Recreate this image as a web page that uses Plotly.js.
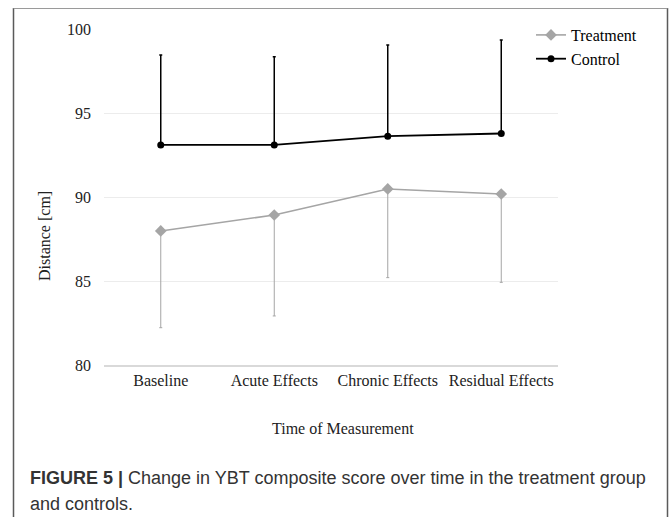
<!DOCTYPE html>
<html>
<head>
<meta charset="utf-8">
<script src="https://cdn.plot.ly/plotly-3.0.1.min.js"></script>
<style>html,body{margin:0;padding:0;background:#fff;}#chart{width:669px;height:517px;}</style>
</head>
<body>
<div id="chart"></div>
<script>
// ---- data ----
const categories = ["Baseline", "Acute Effects", "Chronic Effects", "Residual Effects"];
const treatmentMean = [87.98, 88.93, 90.48, 90.18];
const treatmentLower = [82.22, 82.92, 85.20, 84.92];   // end of downward error bar
const controlMean = [93.10, 93.10, 93.62, 93.78];
const controlUpper = [98.45, 98.35, 99.05, 99.35];      // end of upward error bar
const yTicks = [80, 85, 90, 95, 100];

const tMinus = treatmentMean.map((v, i) => +(v - treatmentLower[i]).toFixed(3));
const cPlus = controlUpper.map((v, i) => +(v - controlMean[i]).toFixed(3));
const zeros = categories.map(() => 0);

// pixel helpers for paper-positioned decorations
const L = 104, R = 558, T = 29, B = 365;
const px = x => (x - L) / (R - L);
const py = y => (B - y) / (B - T);

const serif = "Liberation Serif, Times New Roman, serif";
const sans = "Liberation Sans, Arial, sans-serif";

const traces = [
  {
    x: categories, y: treatmentMean, name: "Treatment", type: "scatter", mode: "lines+markers",
    line: {color: "#a5a5a5", width: 1.6},
    marker: {symbol: "diamond", size: 9, color: "#a5a5a5"},
    error_y: {type: "data", symmetric: false, array: zeros, arrayminus: tMinus,
              color: "#a5a5a5", thickness: 1, width: 1.5},
    cliponaxis: false
  },
  {
    x: categories, y: controlMean, name: "Control", type: "scatter", mode: "lines+markers",
    line: {color: "#000000", width: 1.8},
    marker: {symbol: "circle", size: 7, color: "#000000"},
    error_y: {type: "data", symmetric: false, array: cPlus, arrayminus: zeros,
              color: "#000000", thickness: 1.5, width: 1.5},
    cliponaxis: false
  }
];

const layout = {
  width: 669, height: 517,
  margin: {l: L, r: 669 - R, t: T, b: 517 - B},
  paper_bgcolor: "#ffffff", plot_bgcolor: "#ffffff",
  showlegend: true,
  legend: {x: px(531), y: py(18), xanchor: "left", yanchor: "top",
           font: {family: serif, size: 16, color: "#000"}, bgcolor: "rgba(0,0,0,0)",
           itemwidth: 30, tracegroupgap: 0},
  xaxis: {
    type: "category", range: [-0.5, 3.5], showgrid: false, zeroline: false,
    showline: true, linecolor: "#d9d9d9", linewidth: 1.5, ticks: "",
    tickfont: {family: serif, size: 16, color: "#222"}, fixedrange: true
  },
  yaxis: {
    range: [80, 100], tickvals: yTicks, ticktext: yTicks.map(String),
    showgrid: true, gridcolor: "#ececec", gridwidth: 1, zeroline: false, showline: false,
    ticks: "", ticklabelstandoff: 12,
    tickfont: {family: serif, size: 16, color: "#222"}, fixedrange: true
  },
  annotations: [
    {text: "Distance [cm]", xref: "paper", yref: "paper", x: px(44), y: py(236),
     xanchor: "center", yanchor: "middle", textangle: -90, showarrow: false,
     font: {family: serif, size: 16, color: "#222"}},
    {text: "Time of Measurement", xref: "paper", yref: "paper", x: px(343), y: py(428),
     xanchor: "center", yanchor: "middle", showarrow: false,
     font: {family: serif, size: 16, color: "#222"}},
    {text: "<b>FIGURE 5 |</b> Change in YBT composite score over time in the treatment group",
     xref: "paper", yref: "paper", x: px(28), y: py(478), xanchor: "left", yanchor: "middle",
     showarrow: false, font: {family: sans, size: 18, color: "#333"}},
    {text: "and controls.", xref: "paper", yref: "paper", x: px(28), y: py(504),
     xanchor: "left", yanchor: "middle", showarrow: false,
     font: {family: sans, size: 18, color: "#333"}}
  ],
  shapes: [
    {type: "line", xref: "paper", yref: "paper", x0: px(13.5), x1: px(13.5), y0: py(8), y1: py(530),
     line: {color: "#5a5a5a", width: 1.5}},
    {type: "line", xref: "paper", yref: "paper", x0: px(667.5), x1: px(667.5), y0: py(8), y1: py(530),
     line: {color: "#5a5a5a", width: 1.5}},
    {type: "line", xref: "paper", yref: "paper", x0: px(13.5), x1: px(667.5), y0: py(8.5), y1: py(8.5),
     line: {color: "#9a9a9a", width: 1}}
  ]
};

Plotly.newPlot("chart", traces, layout, {staticPlot: true, displayModeBar: false});
</script>
</body>
</html>
